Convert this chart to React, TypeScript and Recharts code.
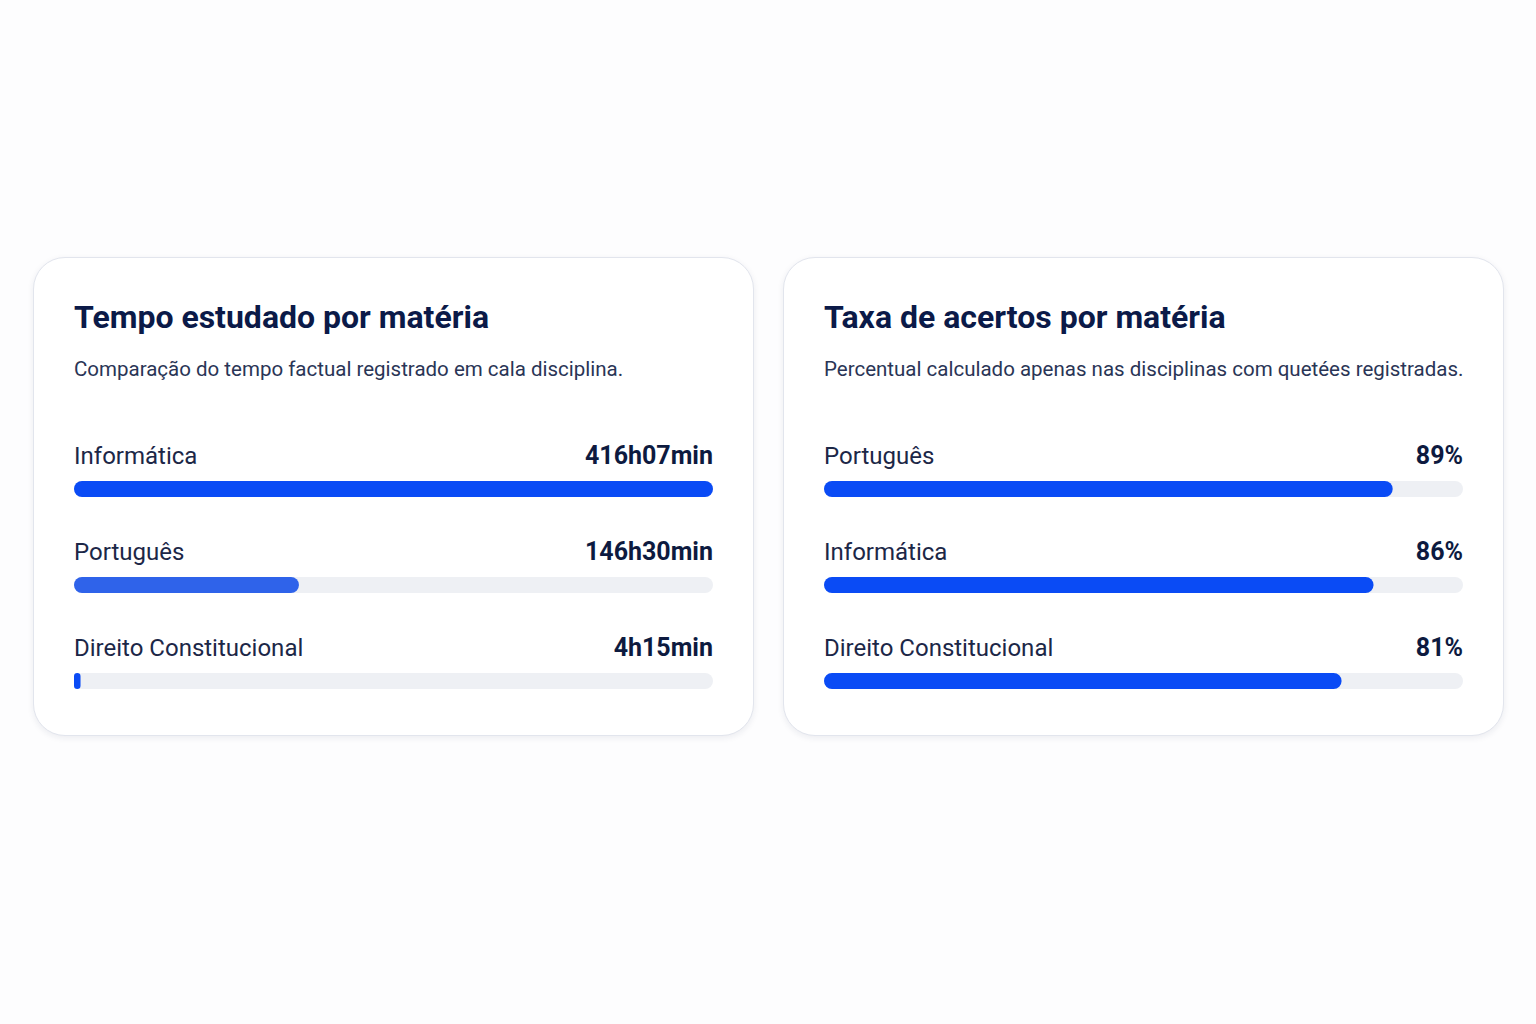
import { Bar, BarChart, Cell, LabelList, XAxis, YAxis } from "recharts";

// tempo estudado (minutos)
const timeSubjects = ["Informática", "Português", "Direito Constitucional"];
const timeMinutes = [24967, 8790, 255];
const timeColors = ["#0a4bf5", "#2f63ea", "#0a4bf5"];

// taxa de acertos (%)
const rateSubjects = ["Português", "Informática", "Direito Constitucional"];
const ratePercent = [89, 86, 81];

const CHART_W = 639;
const CHART_H = 288;
const TRACK = "#eef0f4";
const FONT = "Roboto, 'Noto Sans', sans-serif";

function formatMinutes(total: number) {
  const h = Math.floor(total / 60);
  const m = total % 60;
  return `${h}h${String(m).padStart(2, "0")}min`;
}

interface Row {
  name: string;
  value: number;
  display: string;
  color: string;
}

function NameLabel(props: any) {
  const { y, value } = props;
  return (
    <text x={0} y={y - 17} fill="#1c2747" fontSize={24} fontFamily={FONT} textAnchor="start">
      {value}
    </text>
  );
}

function ValueLabel(props: any) {
  const { y, value } = props;
  return (
    <text x={CHART_W} y={y - 17} fill="#0d1a3f" fontSize={25} fontWeight={700} fontFamily={FONT} textAnchor="end">
      {value}
    </text>
  );
}

function ProgressChart({ rows, max }: { rows: Row[]; max: number }) {
  return (
    <BarChart
      width={CHART_W}
      height={CHART_H}
      data={rows}
      layout="vertical"
      margin={{ top: 0, right: 0, bottom: 0, left: 0 }}
      style={{ overflow: "visible" }}
    >
      <XAxis type="number" hide domain={[0, max]} />
      <YAxis type="category" dataKey="name" hide />
      <Bar dataKey="value" barSize={16} radius={8} background={{ fill: TRACK, radius: 8 }} isAnimationActive={false}>
        {rows.map((r) => (
          <Cell key={r.name} fill={r.color} />
        ))}
        <LabelList dataKey="name" content={<NameLabel />} />
        <LabelList dataKey="display" content={<ValueLabel />} />
      </Bar>
    </BarChart>
  );
}

function Card({ left, title, subtitle, children }: { left: number; title: string; subtitle: string; children: React.ReactNode }) {
  return (
    <div
      style={{
        position: "absolute",
        left,
        top: 257,
        width: 721,
        height: 479,
        boxSizing: "border-box",
        borderRadius: 32,
        border: "1.5px solid #e2e5ed",
        background: "#ffffff",
        boxShadow: "0 2px 6px rgba(25, 40, 80, 0.08)",
        fontFamily: FONT,
      }}
    >
      <div
        style={{
          position: "absolute",
          left: 40,
          top: 40,
          fontSize: 32,
          lineHeight: "38px",
          fontWeight: 700,
          color: "#0b1a48",
          whiteSpace: "nowrap",
        }}
      >
        {title}
      </div>
      <div
        style={{
          position: "absolute",
          left: 40,
          top: 98,
          fontSize: 20.5,
          lineHeight: "26px",
          color: "#2a3556",
          whiteSpace: "nowrap",
        }}
      >
        {subtitle}
      </div>
      <div style={{ position: "absolute", left: 40, top: 183 }}>{children}</div>
    </div>
  );
}

export default function App() {
  const timeRows: Row[] = timeSubjects.map((name, i) => ({
    name,
    value: timeMinutes[i],
    display: formatMinutes(timeMinutes[i]),
    color: timeColors[i],
  }));
  const rateRows: Row[] = rateSubjects.map((name, i) => ({
    name,
    value: ratePercent[i],
    display: `${ratePercent[i]}%`,
    color: "#0a4bf5",
  }));

  return (
    <div style={{ position: "absolute", left: 0, top: 0, width: 1536, height: 1024, background: "#fdfdfe" }}>
      <Card
        left={33}
        title="Tempo estudado por matéria"
        subtitle="Comparação do tempo factual registrado em cala disciplina."
      >
        <ProgressChart rows={timeRows} max={Math.max(...timeMinutes)} />
      </Card>
      <Card
        left={783}
        title="Taxa de acertos por matéria"
        subtitle="Percentual calculado apenas nas disciplinas com quetées registradas."
      >
        <ProgressChart rows={rateRows} max={100} />
      </Card>
    </div>
  );
}
